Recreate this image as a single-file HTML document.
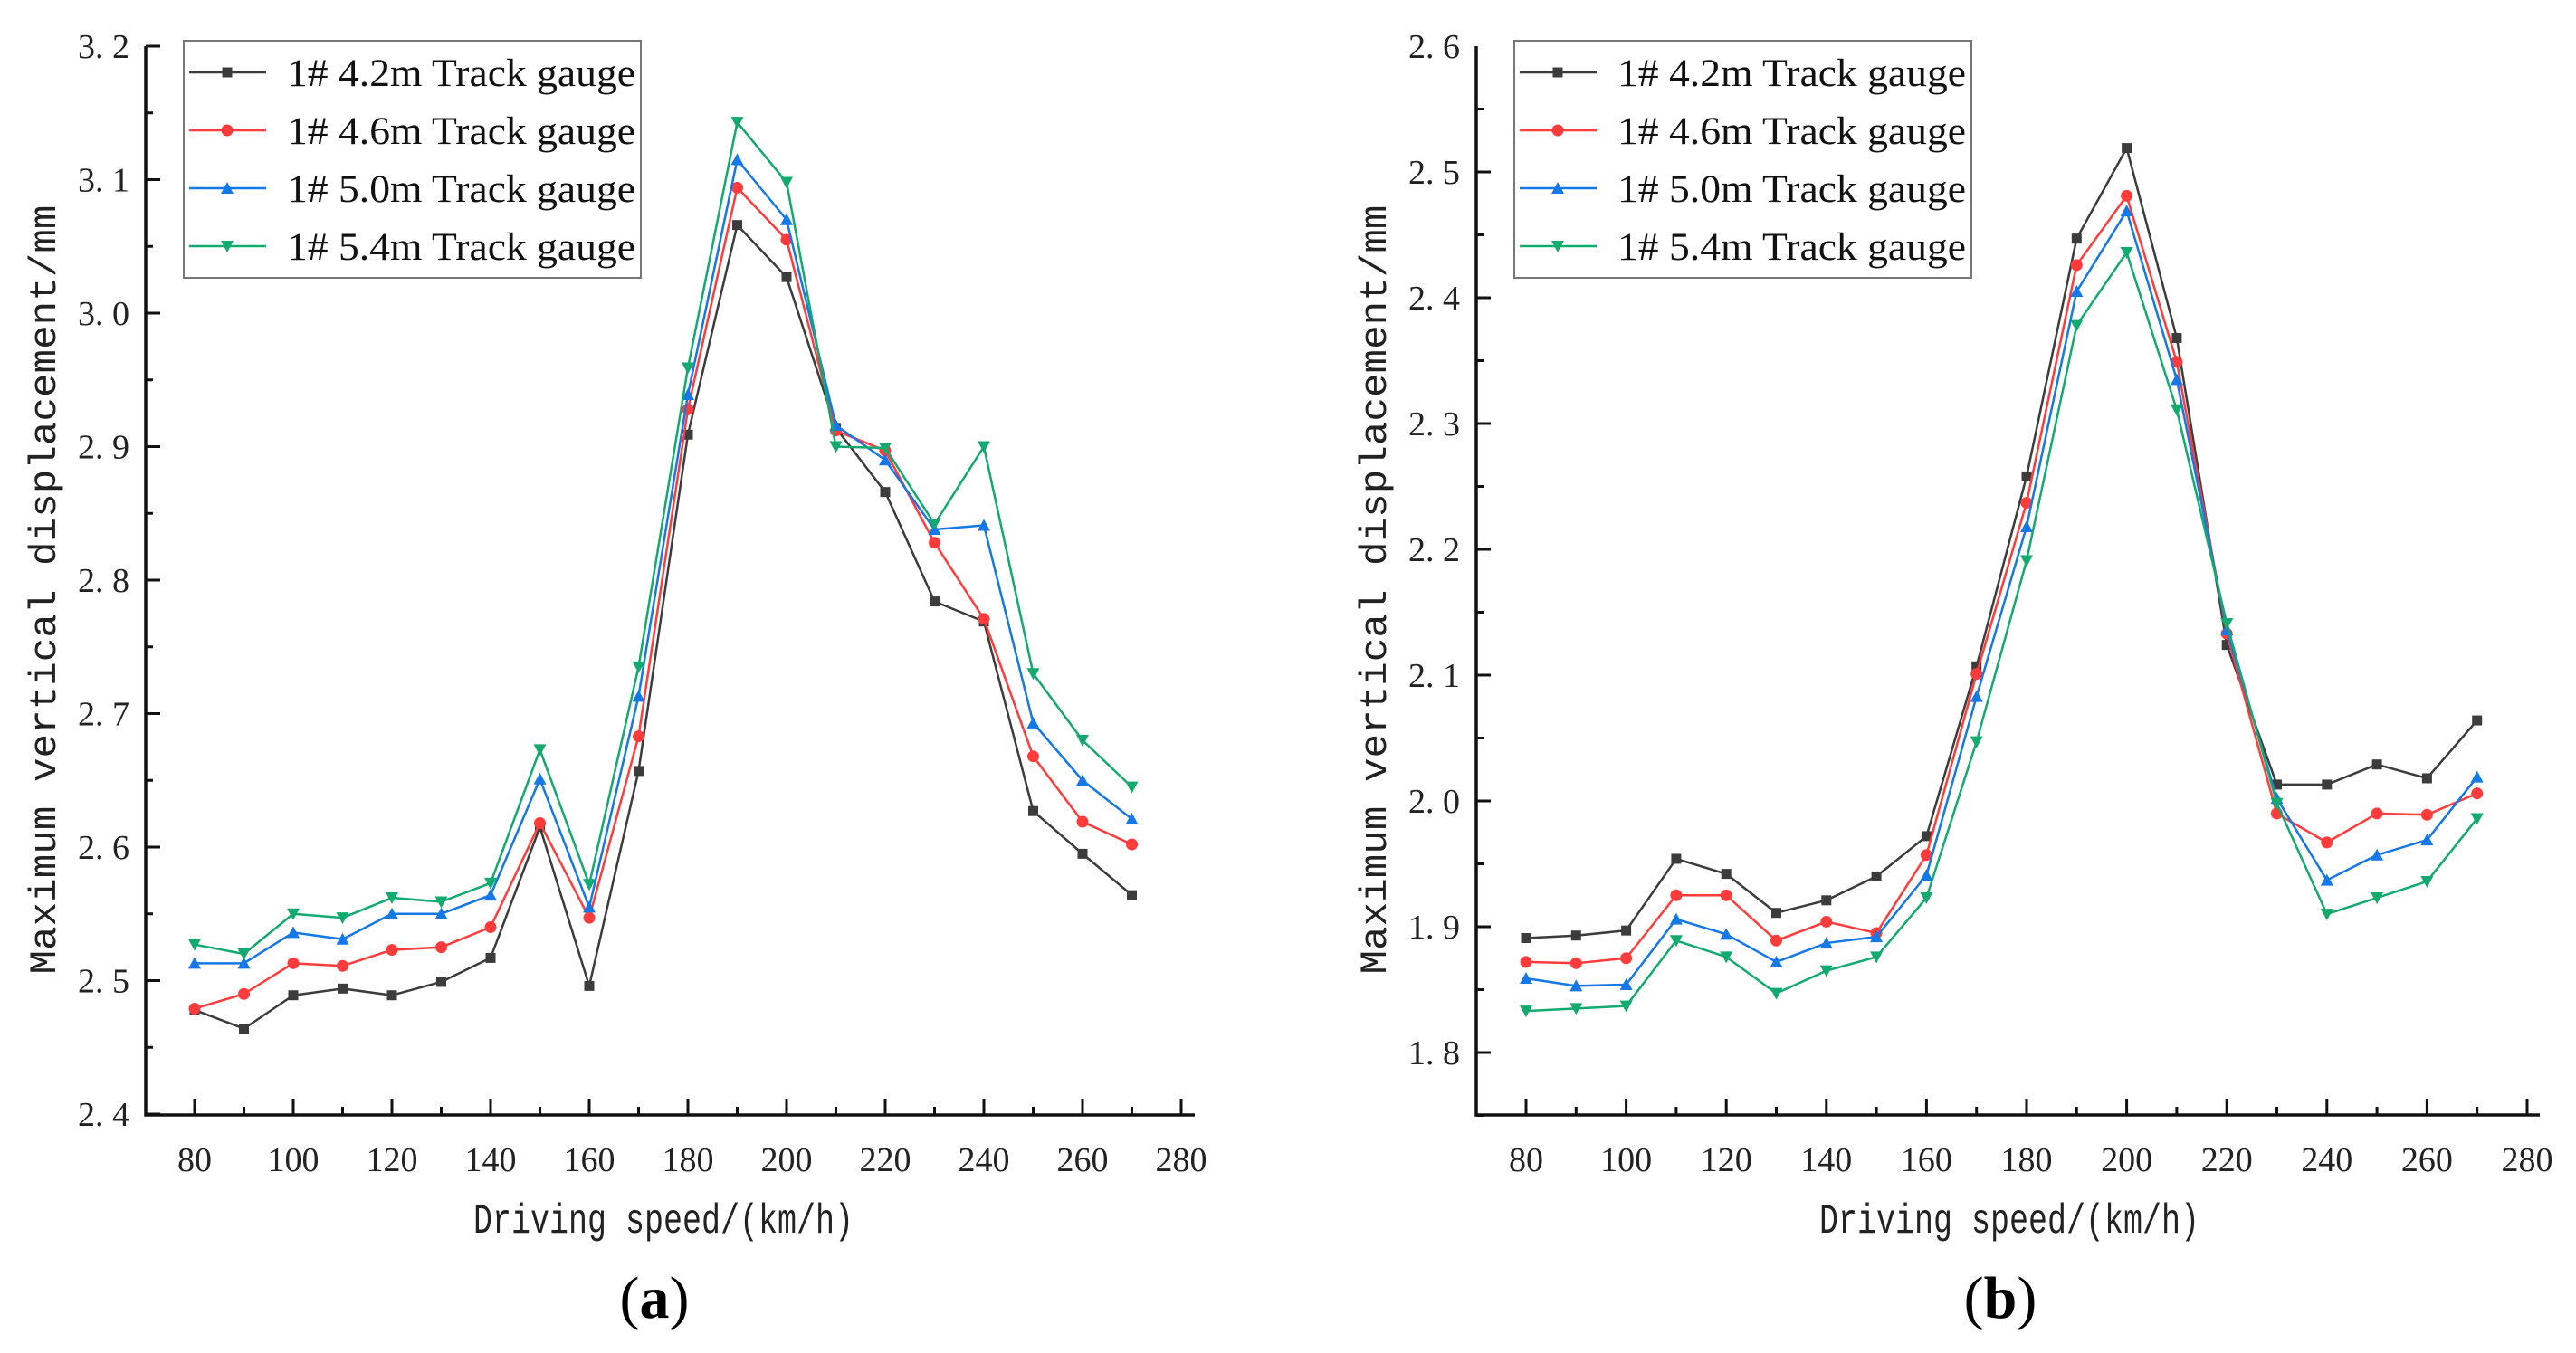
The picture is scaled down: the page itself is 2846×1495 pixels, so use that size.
<!DOCTYPE html>
<html><head><meta charset="utf-8"><style>
html,body{margin:0;padding:0;background:#fff;}
svg{display:block;}
</style></head><body>
<svg id="fig" width="2846" height="1495" xmlns="http://www.w3.org/2000/svg"></svg>
<script>
const speeds = [80,90,100,110,120,130,140,150,160,170,180,190,200,210,220,230,240,250,260,270];
const seriesNames = ["1# 4.2m  Track  gauge","1# 4.6m Track  gauge","1# 5.0m  Track  gauge","1# 5.4m  Track  gauge"];
const aG42 = [2.478,2.464,2.489,2.494,2.489,2.499,2.517,2.615,2.496,2.657,2.909,3.066,3.027,2.914,2.866,2.784,2.769,2.627,2.595,2.564];
const aG46 = [2.479,2.490,2.513,2.511,2.523,2.525,2.540,2.618,2.547,2.683,2.928,3.094,3.055,2.912,2.897,2.828,2.771,2.668,2.619,2.602];
const aG50 = [2.513,2.513,2.536,2.531,2.550,2.550,2.564,2.651,2.555,2.713,2.939,3.115,3.070,2.916,2.890,2.838,2.841,2.693,2.650,2.621];
const aG54 = [2.527,2.520,2.550,2.547,2.562,2.559,2.573,2.673,2.572,2.735,2.959,3.143,3.098,2.900,2.899,2.842,2.900,2.730,2.680,2.645];
const bG42 = [1.891,1.893,1.897,1.954,1.942,1.911,1.921,1.940,1.972,2.107,2.258,2.447,2.519,2.368,2.124,2.013,2.013,2.029,2.018,2.064];
const bG46 = [1.872,1.871,1.875,1.925,1.925,1.889,1.904,1.895,1.957,2.101,2.237,2.426,2.481,2.349,2.133,1.990,1.967,1.990,1.989,2.006];
const bG50 = [1.859,1.853,1.854,1.906,1.894,1.872,1.887,1.892,1.941,2.083,2.218,2.405,2.469,2.335,2.136,2.002,1.937,1.957,1.969,2.019];
const bG54 = [1.833,1.835,1.837,1.889,1.876,1.847,1.865,1.876,1.923,2.047,2.191,2.378,2.436,2.311,2.141,1.998,1.910,1.923,1.936,1.986];
const xTicks = [80,100,120,140,160,180,200,220,240,260,280];
const aYTicks = ["2. 4","2. 5","2. 6","2. 7","2. 8","2. 9","3. 0","3. 1","3. 2"];
const bYTicks = ["1. 8","1. 9","2. 0","2. 1","2. 2","2. 3","2. 4","2. 5","2. 6"];

const NS="http://www.w3.org/2000/svg";
const svg=document.getElementById('fig');
const colors=["#3c3c3c","#ff3b3b","#1478e6","#12aa6e"];
const markers=["square","circle","up","down"];
function mk(tag,attrs,parent){const e=document.createElementNS(NS,tag);for(const k in attrs)e.setAttribute(k,attrs[k]);(parent||svg).appendChild(e);return e;}
function marker(g,type,x,y,c){
  let e;
  if(type==="square"){e=mk('rect',{x:x-5.5,y:y-5.5,width:11,height:11,fill:c},g);}
  else if(type==="circle"){e=mk('circle',{cx:x,cy:y,r:6.5,fill:c},g);}
  else if(type==="up"){e=mk('polygon',{points:`${x},${y-7} ${x-7},${y+6} ${x+7},${y+6}`,fill:c},g);}
  else {e=mk('polygon',{points:`${x},${y+7} ${x-7},${y-6} ${x+7},${y-6}`,fill:c},g);}
  
  
}
function panel(p){
  const g=mk('g',{});
  
  
  const X=v=>p.x80+(v-80)*p.xs;
  const Y=v=>p.yTop-(v-p.yMax)*p.ys;
  p.series.forEach((s,i)=>{
    const sg=mk('g',{},g);
    
    
    const pts=speeds.map((v,j)=>X(v)+','+Y(s[j])).join(' ');
    mk('polyline',{points:pts,fill:'none',stroke:colors[i],'stroke-width':2.5,'stroke-linejoin':'round'},sg);
    speeds.forEach((v,j)=>marker(sg,markers[i],X(v),Y(s[j]),colors[i]));
  });
  const ax=mk('path',{d:`M${p.left},${p.yTop} V${p.bottom} H${p.right}`,fill:'none',stroke:'#111','stroke-width':3.5},g);
  
  
  for(let v=80;v<=280;v+=10){
    const major=(v%20===0);
    mk('line',{x1:X(v),x2:X(v),y1:p.bottom,y2:p.bottom-(major?18:9),stroke:'#111','stroke-width':3},g);
  }
  xTicks.forEach(v=>{
    const t=mk('text',{x:X(v),y:p.bottom+62,'text-anchor':'middle','font-family':'Liberation Serif, serif','font-size':38,fill:'#222'},g);
    t.textContent=v;
    
    
  });
  for(let k=0;k<=16;k++){
    const v=p.yMin+k*0.05;
    const yy=Y(v);
    if(yy>p.bottom+1)continue;
    const major=(k%2===p.majorParity);
    mk('line',{x1:p.left,x2:p.left+(major?16:8),y1:yy,y2:yy,stroke:'#111','stroke-width':3},g);
  }
  p.yLabels.forEach((lab,i)=>{
    const v=p.yLabelStart+i*0.1;
    const t=mk('text',{x:p.left-18,y:Y(v)+13,'text-anchor':'end','font-family':'Liberation Serif, serif','font-size':38,fill:'#222'},g);
    t.textContent=lab;
    
    
  });
  const yt=mk('text',{x:0,y:0,transform:`translate(${p.left-100},${(p.yTop+p.bottom)/2+10}) rotate(-90)`,'text-anchor':'middle','font-family':'Liberation Mono, monospace','font-size':42,fill:'#222',textLength:850,lengthAdjust:'spacingAndGlyphs'},g);
  yt.textContent="Maximum vertical displacement/mm";
  
  
  const xt=mk('text',{x:p.xTitleX,y:1362,'text-anchor':'middle','font-family':'Liberation Mono, monospace','font-size':46,fill:'#222',textLength:420,lengthAdjust:'spacingAndGlyphs'},g);
  xt.textContent="Driving speed/(km/h)";
  
  
  const pl=mk('text',{x:p.xTitleX-10,y:1456,'text-anchor':'middle','font-family':'Liberation Serif, serif','font-size':66,fill:'#000'},g);
  pl.innerHTML='(<tspan font-weight="bold">'+p.id+'</tspan>)';
  
  
  const lg=mk('g',{},g);
  
  
  mk('rect',{x:p.legX,y:45,width:505,height:262,fill:'#fff',stroke:'#777','stroke-width':2},lg);
  seriesNames.forEach((n,i)=>{
    const yy=80+i*64;
    const eg=mk('g',{},lg);
    
    
    mk('line',{x1:p.legX+6,x2:p.legX+91,y1:yy,y2:yy,stroke:colors[i],'stroke-width':2.5},eg);
    marker(eg,markers[i],p.legX+48,yy,colors[i]);
    const t=mk('text',{x:p.legX+114,y:yy+15,'font-family':'Liberation Serif, serif','font-size':43,fill:'#111',textLength:385,lengthAdjust:'spacingAndGlyphs'},eg);
    t.textContent=n;
  });
}
panel({id:'a',series:[aG42,aG46,aG50,aG54],x80:215,xs:5.45,left:161,right:1320,bottom:1232,yTop:51,yMax:3.2,yMin:2.4,ys:1475,majorParity:0,yLabels:aYTicks,yLabelStart:2.4,legX:203,xTitleX:733});
panel({id:'b',series:[bG42,bG46,bG50,bG54],x80:1686,xs:5.53,left:1631,right:2806,bottom:1232,yTop:51,yMax:2.6,yMin:1.75,ys:1390,majorParity:1,yLabels:bYTicks,yLabelStart:1.8,legX:1673,xTitleX:2220});
</script>
</body></html>
